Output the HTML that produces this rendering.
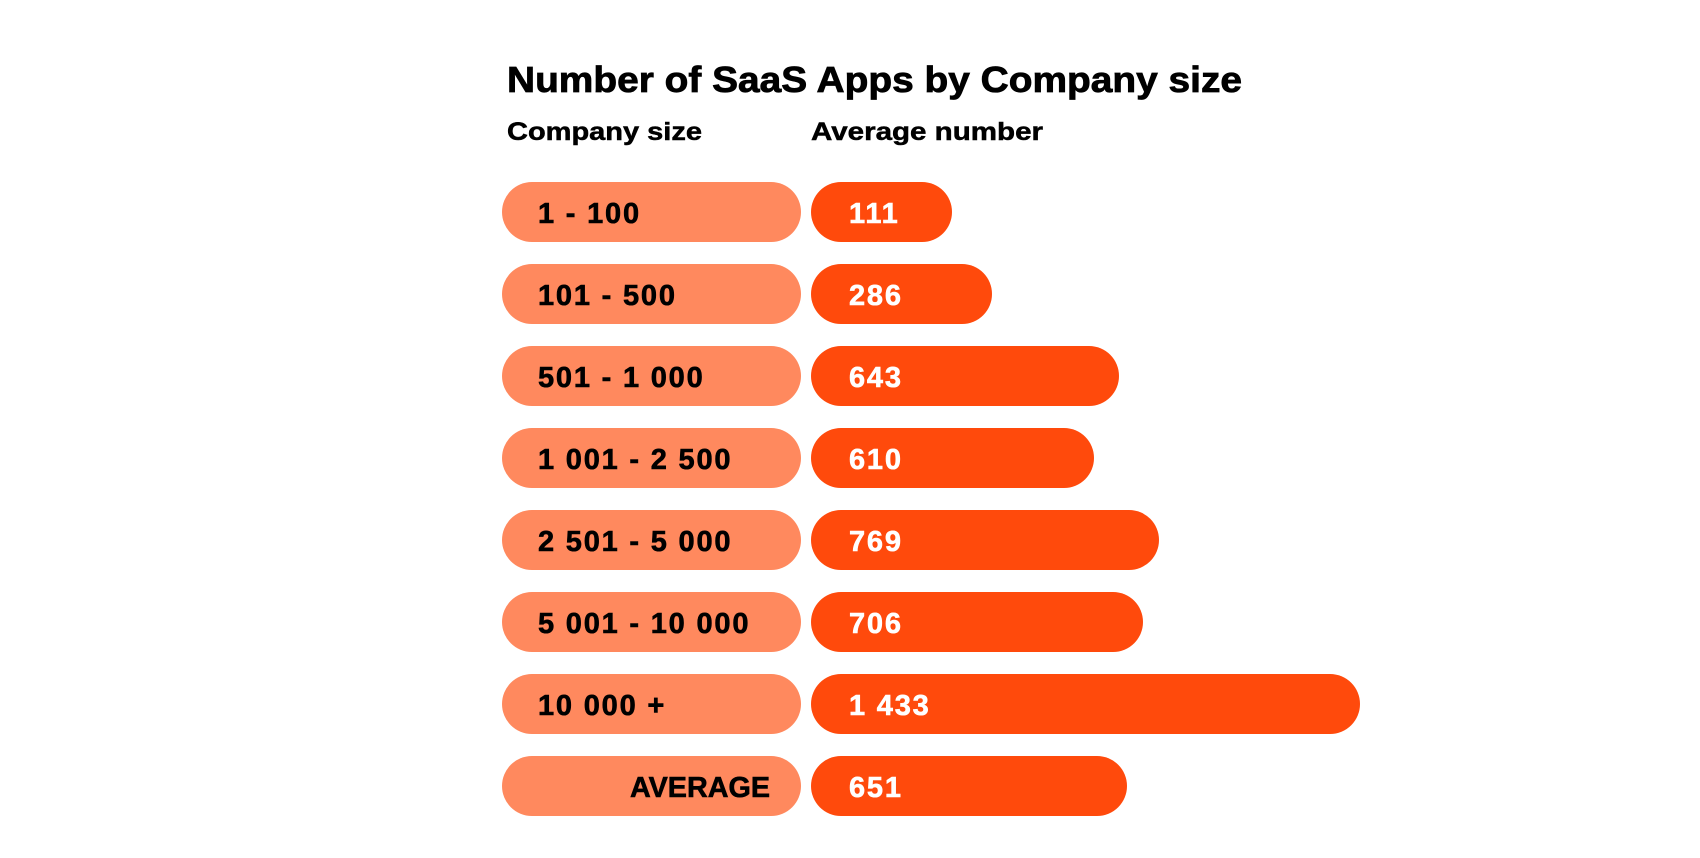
<!DOCTYPE html>
<html><head><meta charset="utf-8"><style>html,body{margin:0;padding:0;background:#fff}svg{display:block}</style></head>
<body>
<svg width="1700" height="858" viewBox="0 0 1700 858" xmlns="http://www.w3.org/2000/svg" font-family="'Liberation Sans', sans-serif" font-weight="bold">
<text x="507" y="92" font-size="36" fill="#000" stroke="#000" stroke-width="0.8" textLength="735" lengthAdjust="spacingAndGlyphs">Number of SaaS Apps by Company size</text>
<text x="507" y="140" font-size="25" fill="#000" stroke="#000" stroke-width="0.5" textLength="195" lengthAdjust="spacingAndGlyphs">Company size</text>
<text x="811" y="140" font-size="25" fill="#000" stroke="#000" stroke-width="0.5" textLength="232" lengthAdjust="spacingAndGlyphs">Average number</text>
<g font-size="29" letter-spacing="1.8" stroke-width="0.6">
<g transform="translate(0,182)">
<rect x="502" y="0" width="299" height="60" rx="30" fill="#FF895E"/><rect x="811" y="0" width="141" height="60" rx="30" fill="#FF4A0C"/>
<text x="538" y="41" fill="#000" stroke="#000">1 - 100</text><text x="849" y="41" fill="#fff" stroke="#fff">111</text></g>
<g transform="translate(0,264)">
<rect x="502" y="0" width="299" height="60" rx="30" fill="#FF895E"/><rect x="811" y="0" width="181" height="60" rx="30" fill="#FF4A0C"/>
<text x="538" y="41" fill="#000" stroke="#000">101 - 500</text><text x="849" y="41" fill="#fff" stroke="#fff">286</text></g>
<g transform="translate(0,346)">
<rect x="502" y="0" width="299" height="60" rx="30" fill="#FF895E"/><rect x="811" y="0" width="308" height="60" rx="30" fill="#FF4A0C"/>
<text x="538" y="41" fill="#000" stroke="#000">501 - 1 000</text><text x="849" y="41" fill="#fff" stroke="#fff">643</text></g>
<g transform="translate(0,428)">
<rect x="502" y="0" width="299" height="60" rx="30" fill="#FF895E"/><rect x="811" y="0" width="283" height="60" rx="30" fill="#FF4A0C"/>
<text x="538" y="41" fill="#000" stroke="#000">1 001 - 2 500</text><text x="849" y="41" fill="#fff" stroke="#fff">610</text></g>
<g transform="translate(0,510)">
<rect x="502" y="0" width="299" height="60" rx="30" fill="#FF895E"/><rect x="811" y="0" width="348" height="60" rx="30" fill="#FF4A0C"/>
<text x="538" y="41" fill="#000" stroke="#000">2 501 - 5 000</text><text x="849" y="41" fill="#fff" stroke="#fff">769</text></g>
<g transform="translate(0,592)">
<rect x="502" y="0" width="299" height="60" rx="30" fill="#FF895E"/><rect x="811" y="0" width="332" height="60" rx="30" fill="#FF4A0C"/>
<text x="538" y="41" fill="#000" stroke="#000">5 001 - 10 000</text><text x="849" y="41" fill="#fff" stroke="#fff">706</text></g>
<g transform="translate(0,674)">
<rect x="502" y="0" width="299" height="60" rx="30" fill="#FF895E"/><rect x="811" y="0" width="549" height="60" rx="30" fill="#FF4A0C"/>
<text x="538" y="41" fill="#000" stroke="#000">10 000 +</text><text x="849" y="41" fill="#fff" stroke="#fff">1 433</text></g>
<g transform="translate(0,756)">
<rect x="502" y="0" width="299" height="60" rx="30" fill="#FF895E"/><rect x="811" y="0" width="316" height="60" rx="30" fill="#FF4A0C"/>
<text x="630" y="41" fill="#000" stroke="#000" textLength="140" lengthAdjust="spacingAndGlyphs" letter-spacing="0">AVERAGE</text><text x="849" y="41" fill="#fff" stroke="#fff">651</text></g>
</g>
</svg>
</body></html>
